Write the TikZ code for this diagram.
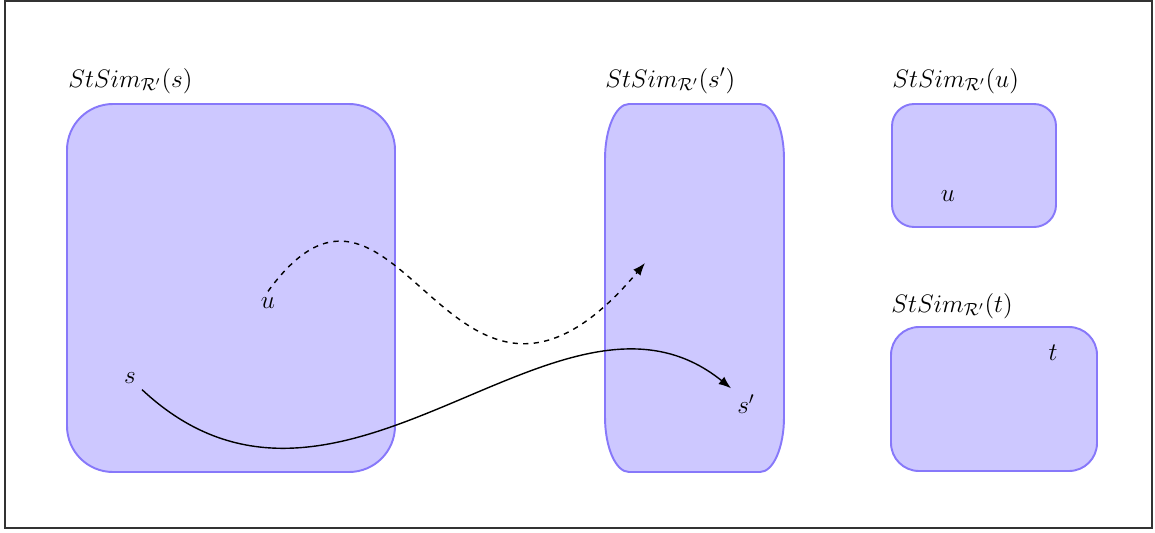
\documentclass[tikz,border=0pt]{standalone}
\usepackage{amsmath,amssymb}
\usepackage{tikz}
\usetikzlibrary{positioning,arrows.meta,calc}
\usepackage{xcolor}
\definecolor{simfill}{RGB}{205,200,255}
\definecolor{simline}{RGB}{135,120,250}

\begin{document}
\begin{tikzpicture}[
  region/.style={draw=simline, fill=simfill, line width=1.1pt},
  simbox/.style={region, rectangle, inner sep=0pt},
  title/.style={anchor=base west, inner sep=0pt, font=\Large},
  state/.style={font=\Large},
  arrow/.style={-{Latex[length=2.5mm]}, line width=0.8pt}
]
  \useasboundingbox (0,0) rectangle (23.1,10.64);
  \draw[line width=1.2pt, black!80] (0.1,0.08) rectangle (23.04,10.62);

  % classes
  \node[simbox, rounded corners=0.92cm, minimum width=6.56cm, minimum height=7.36cm] (simS) at (4.62,4.88) {};
  \draw[region] (12.1,2.3) -- (12.1,7.46)
    arc[start angle=180, end angle=90, x radius=0.48cm, y radius=1.1cm] -- (15.2,8.56)
    arc[start angle=90, end angle=0, x radius=0.48cm, y radius=1.1cm] -- (15.68,2.3)
    arc[start angle=0, end angle=-90, x radius=0.48cm, y radius=1.1cm] -- (12.58,1.2)
    arc[start angle=-90, end angle=-180, x radius=0.48cm, y radius=1.1cm] -- cycle;
  \node[simbox, rounded corners=0.44cm, minimum width=3.28cm, minimum height=2.46cm] (simU) at (19.48,7.33) {};
  \node[simbox, rounded corners=0.56cm, minimum width=4.12cm, minimum height=2.88cm] (simT) at (19.88,2.66) {};

  \node[title] (titleS) at (1.36,8.9) {$StSim_{\mathcal{R}'}(s)$};
  \node[title] (titleSp) at (12.1,8.9) {$StSim_{\mathcal{R}'}(s')$};
  \node[title] (titleU) at (17.84,8.9) {$StSim_{\mathcal{R}'}(u)$};
  \node[title] (titleT) at (17.82,4.4) {$StSim_{\mathcal{R}'}(t)$};

  % states
  \node[state] (u) at (5.36,4.58) {$u$};
  \node[state] (s) at (2.6,3.08) {$s$};
  \node[state] (sp) at (14.92,2.56) {$s'$};
  \node[state] (u2) at (18.96,6.72) {$u$};
  \node[state] (t) at (21.06,3.58) {$t$};
  \coordinate (uend) at (12.9,5.38);

  \draw[arrow, dashed] (u.north) .. controls (8.0,8.44) and (9.0,0.74) .. (uend);
  \draw[arrow] (s.south east) .. controls (6.8,-0.86) and (11.2,5.64) .. (sp.north west);
\end{tikzpicture}
\end{document}
